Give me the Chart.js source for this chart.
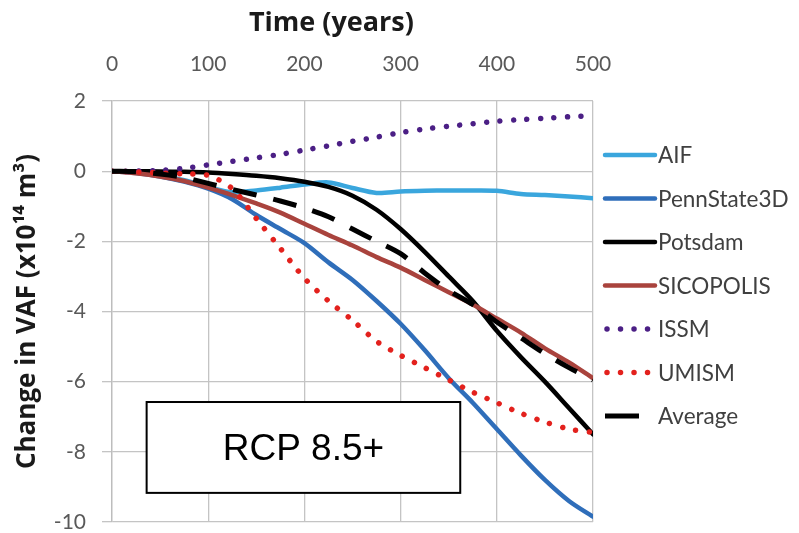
<!DOCTYPE html>
<html>
<head>
<meta charset="utf-8">
<script src="https://cdn.jsdelivr.net/npm/chart.js@4.4.1/dist/chart.umd.min.js"></script>
<style>
body{margin:0;background:#fff;}
</style>
</head>
<body>
<canvas id="vafChart" width="799" height="533"></canvas>
<script>

// Change in VAF, RCP 8.5+ scenario (x10^14 m^3)

const years = [0,25,50,75,100,125,150,175,200,225,250,275,300,325,350,375,400,425,450,475,500];

const aif        = [0,-0.04,-0.12,-0.26,-0.45,-0.6,-0.55,-0.47,-0.38,-0.32,-0.48,-0.62,-0.58,-0.56,-0.55,-0.55,-0.56,-0.65,-0.68,-0.72,-0.77];
const pennState  = [0,-0.05,-0.15,-0.3,-0.5,-0.8,-1.25,-1.65,-2.05,-2.6,-3.1,-3.7,-4.35,-5.1,-5.9,-6.6,-7.35,-8.1,-8.8,-9.4,-9.85];
const potsdam    = [0,0,-0.01,-0.02,-0.04,-0.08,-0.13,-0.2,-0.3,-0.45,-0.7,-1.1,-1.65,-2.3,-3.0,-3.7,-4.55,-5.3,-6.0,-6.75,-7.5];
const sicopolis  = [0,-0.06,-0.15,-0.28,-0.47,-0.68,-0.92,-1.18,-1.5,-1.82,-2.12,-2.45,-2.75,-3.1,-3.45,-3.8,-4.2,-4.6,-5.05,-5.45,-5.9];
const issm       = [0,0,0.02,0.08,0.18,0.28,0.38,0.48,0.6,0.72,0.85,0.97,1.1,1.2,1.28,1.35,1.42,1.47,1.51,1.55,1.58];
const umism      = [0,-0.02,-0.05,-0.08,-0.12,-0.5,-1.35,-2.2,-3.05,-3.7,-4.25,-4.85,-5.25,-5.6,-5.95,-6.3,-6.6,-6.9,-7.15,-7.35,-7.45];
const average    = [0,-0.02,-0.08,-0.18,-0.35,-0.52,-0.68,-0.85,-1.05,-1.3,-1.65,-2.0,-2.35,-2.9,-3.4,-3.8,-4.3,-4.75,-5.2,-5.6,-5.95];

const seriesNames = ["AIF","PennState3D","Potsdam","SICOPOLIS","ISSM","UMISM","Average"];

const xTicks = [0,100,200,300,400,500];
const yTicks = [2,0,-2,-4,-6,-8,-10];

const scenarioLabel = "RCP 8.5+";


function points(values){
return values.map(function(v,i){ return {x:years[i], y:v}; });
}

function series(name, values, color, dash, width, order){
return {
label:name,
data:points(values),
borderColor:color,
backgroundColor:color,
borderWidth:width,
borderDash:dash,
borderCapStyle:(dash.length && dash[0] > 1) ? "butt" : "round",
pointRadius:0,
tension:0.3,
order:order
};
}

const solid = [];
const dotted = [0.01, 13.5];
const longDash = [24, 17];

// boxed scenario label inside the plot, plus the right-hand legend
const extras = {
id:'extras',
afterDatasetsDraw(chart){
const ctx = chart.ctx;
const xs = chart.scales.x, ys = chart.scales.y;

let l = xs.getPixelForValue(36), r = xs.getPixelForValue(362);
let t = ys.getPixelForValue(-6.58), b = ys.getPixelForValue(-9.17);

ctx.save();
ctx.fillStyle = "#fff";
ctx.fillRect(l, t, r-l, b-t);
ctx.strokeStyle = "#000";
ctx.lineWidth = 2;
ctx.strokeRect(l, t, r-l, b-t);
ctx.fillStyle = "#000";
ctx.font = "37px 'Liberation Sans', Arial, sans-serif";
ctx.textAlign = "center";
ctx.textBaseline = "middle";
ctx.fillText(scenarioLabel, (l+r)/2, (t+b)/2 + 2);
ctx.restore();
},
afterDraw(chart){
const ctx = chart.ctx;
const area = chart.chartArea;

chart.data.datasets.forEach(function(ds, i){
let yy = area.top + 54 + i*43.5;
let x0 = area.right + 12;
let x1 = x0 + 50;

ctx.save();
ctx.strokeStyle = ds.borderColor;
ctx.lineWidth = ds.borderWidth;
ctx.lineCap = ds.borderCapStyle;
ctx.setLineDash([]);
if(ds.borderDash.length && ds.borderDash[0] < 1){
ctx.setLineDash(ds.borderDash);
x0 += 2;
}
if(ds.borderDash.length && ds.borderDash[0] > 1){
x1 = x0 + 34;
}
ctx.beginPath();
ctx.moveTo(x0, yy);
ctx.lineTo(x1, yy);
ctx.stroke();

ctx.setLineDash([]);
ctx.fillStyle = "#404040";
ctx.font = "22.5px Lato, sans-serif";
ctx.textBaseline = "middle";
ctx.fillText(ds.label, area.right + 65, yy + 1);
ctx.restore();
});
}
};

const ctx = document.getElementById('vafChart').getContext('2d');

new Chart(ctx,{
type:'line',
data:{
datasets:[
series(seriesNames[0], aif, "#3AA6DD", solid, 4.5, 6),
series(seriesNames[1], pennState, "#2F6EBA", solid, 4.5, 5),
series(seriesNames[2], potsdam, "#000000", solid, 4.5, 4),
series(seriesNames[3], sicopolis, "#A9433D", solid, 4.5, 3),
series(seriesNames[4], issm, "#4B1F85", dotted, 5.5, 2),
series(seriesNames[5], umism, "#E3211D", dotted, 5.5, 1),
series(seriesNames[6], average, "#000000", longDash, 5, 0)
]
},
options:{
responsive:false,
animation:false,
layout:{
padding:{left:0, top:0, right:206, bottom:11}
},
plugins:{
legend:{display:false},
tooltip:{enabled:false}
},
scales:{
x:{
type:'linear',
position:'top',
min:0,
max:500,
afterBuildTicks:function(scale){
scale.ticks = xTicks.map(function(v){ return {value:v}; });
},
afterFit:function(scale){
scale.height = 101;
scale.paddingLeft = 0;
scale.paddingRight = 0;
},
ticks:{
color:"#595959",
padding:24,
font:{family:"Lato", size:21}
},
grid:{
color:"#C4C4C4",
lineWidth:1.3,
drawTicks:false
},
border:{display:false},
title:{
display:true,
// trailing spaces pull the centred title left, as in the original
text:"Time (years)      ",
color:"#1a1a1a",
padding:{top:7, bottom:0},
font:{family:"Open Sans", size:27, weight:"bold"}
}
},
y:{
min:-10,
max:2,
afterBuildTicks:function(scale){
scale.ticks = yTicks.map(function(v){ return {value:v}; });
},
afterFit:function(scale){
scale.width = 112;
scale.paddingTop = 0;
scale.paddingBottom = 0;
},
ticks:{
color:"#595959",
padding:16,
font:{family:"Lato", size:21}
},
grid:{
color:"#C4C4C4",
lineWidth:1.3,
drawTicks:true,
tickLength:10
},
border:{display:true, color:"#BDBDBD", width:1.3},
title:{
display:true,
text:"Change in VAF (x10¹⁴ m³)",
color:"#1a1a1a",
padding:{top:12, bottom:0},
font:{family:"Open Sans", size:26, weight:"bold"}
}
}
}
},
plugins:[extras]
});

</script>
</body>
</html>
